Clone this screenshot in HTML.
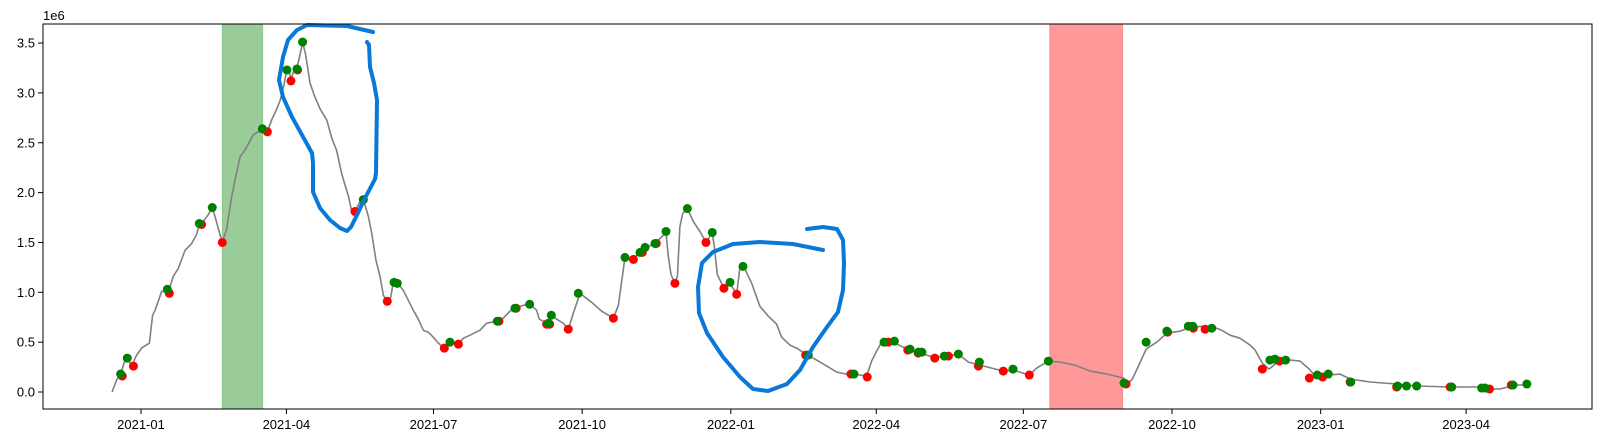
<!DOCTYPE html>
<html><head><meta charset="utf-8">
<style>
html,body{margin:0;padding:0;background:#fff;}
svg{display:block;font-family:"Liberation Sans","DejaVu Sans",sans-serif;}
</style></head>
<body>
<svg id="chart" width="1601" height="443" viewBox="0 0 1601 443" xmlns="http://www.w3.org/2000/svg">
<rect width="1601" height="443" fill="#fff"/>
<g id="bands"></g>
<g id="lines"></g>
<g id="dots"></g>
<g id="annot">
<path fill="none" stroke="#0a78d8" stroke-width="4" stroke-linecap="round" stroke-linejoin="round"
d="M373,32 L347,26 L307,25 L297,30 L288,40 L283,57 L279,80 L283,97 L292,117 L302,135 L312,153 L313,163 L313,192 L320,208 L330,220 L340,228 L347,231 L351,227 L357,215 L363,202 L375,179 L376,173 L377,100 L374,83 L370,67 L369,45 L367,42"/>
<path fill="none" stroke="#0a78d8" stroke-width="4" stroke-linecap="round" stroke-linejoin="round"
d="M823,250 L793,244 L760,242 L733,244 L713,252 L702,263 L698,287 L699,313 L707,333 L723,357 L740,377 L753,389 L768,391 L787,384 L800,370 L813,347 L827,327 L838,312 L843,290 L844,263 L843,240 L837,229 L823,227 L807,229"/>
</g>
<g id="axes"></g>
<text x="43" y="20" font-size="13" fill="#000">1e6</text>
</svg>
<script>
const lineDays=[-17.9,-15.1,-12.6,-10.5,-8.5,-5.8,-2.7,0.4,5.2,7.2,8.7,12.8,16.9,20,23.1,27.2,31.4,34.4,36.1,37.5,41.7,44.1,45.8,48.5,50.3,53,56.1,58.2,61.3,63.7,66.8,69.5,72.6,75.3,78.2,80.9,83.5,86,88.5,90.1,91.6,92.8,94.3,96.3,98.4,100,101.9,104.6,107.1,110.8,114.9,118,121.1,124.2,126.2,128.3,130.4,132.4,135.5,137.6,140.7,142.7,145.4,147.9,150,152.4,154.5,156.1,158.8,162.3,165.4,168.5,171.6,174.7,177.8,180.9,184,187.7,191.2,196.4,199.5,203.6,209.8,213.9,220.5,224.2,228.3,231.4,236.6,240.7,244.8,246.5,249,252.1,254.1,257.2,261.3,264.4,267.5,271.7,274.8,278.9,285.1,292.3,295.4,299.5,304.7,308.8,312.5,318.1,324.9,326.3,328,330.4,331.9,333.5,335.2,338.1,341.8,345.9,349.6,353.5,354.8,356.6,360.7,364.5,368.6,370.7,373.8,377.9,383,388.2,393.3,396.4,401.6,405.7,412.3,418.1,424.3,430.5,436.7,440.8,449,452.1,455.2,458.3,465.5,473.8,482,490.3,498.5,505.8,512,519.2,533.6,539.8,549.7,554.3,561.5,568.7,578,587.3,597.7,608,610.5,613.2,617.2,622,628.6,634.8,643,649.2,658.5,662.6,665.6,668.7,673.9,680.1,686.3,689.4,693.9,698,704.9,711,717.2,723,727.5,734.7,742,748.2,760.5,777,789.4,810.1,830.7,834.8,841,848,852,857.6];
const lineValues=[0,0.12,0.18,0.29,0.34,0.26,0.37,0.44,0.49,0.77,0.82,1.01,1.0,1.16,1.24,1.42,1.49,1.58,1.68,1.69,1.78,1.85,1.76,1.6,1.5,1.63,1.96,2.13,2.36,2.41,2.5,2.58,2.61,2.64,2.61,2.73,2.82,2.92,3.08,3.23,3.23,3.13,3.21,3.24,3.38,3.51,3.38,3.1,2.98,2.84,2.73,2.55,2.42,2.19,2.08,1.97,1.81,1.81,1.91,1.93,1.76,1.6,1.32,1.16,0.97,0.91,0.95,1.1,1.09,1.02,0.92,0.82,0.73,0.62,0.6,0.55,0.49,0.44,0.5,0.48,0.54,0.57,0.62,0.69,0.71,0.74,0.81,0.84,0.87,0.88,0.82,0.73,0.71,0.69,0.77,0.73,0.69,0.63,0.79,0.99,0.95,0.9,0.81,0.74,0.87,1.35,1.33,1.41,1.45,1.49,1.6,1.36,1.18,1.09,1.16,1.66,1.79,1.84,1.71,1.61,1.5,1.6,1.45,1.18,1.04,1.09,0.98,1.27,1.23,1.09,0.86,0.76,0.68,0.55,0.47,0.44,0.37,0.32,0.26,0.2,0.18,0.18,0.16,0.31,0.41,0.5,0.5,0.43,0.39,0.35,0.36,0.38,0.3,0.27,0.21,0.22,0.17,0.24,0.31,0.3,0.27,0.21,0.18,0.14,0.09,0.12,0.26,0.43,0.5,0.59,0.61,0.65,0.66,0.63,0.64,0.62,0.57,0.54,0.47,0.42,0.29,0.23,0.32,0.32,0.31,0.23,0.14,0.17,0.18,0.13,0.1,0.08,0.06,0.05,0.05,0.03,0.03,0.06,0.07,0.07,0.08];
const redDays=[-11.6,-4.7,17.5,37.5,50.3,78.2,92.8,96.9,132.4,152.4,187.7,196.4,221.5,232.2,251,252.9,264.4,292.3,304.7,310.2,318.9,330.4,349.6,360.7,368.6,411.3,439.3,449.4,462.4,474.5,480.9,491.2,499.6,518.2,533.6,549.7,609.6,635.3,651.2,658.5,693.9,704.5,723,731.2,748.2,777,810.1,834.5,848];
const redValues=[0.16,0.26,0.99,1.68,1.5,2.61,3.12,3.23,1.81,0.91,0.44,0.48,0.71,0.84,0.68,0.68,0.63,0.74,1.33,1.4,1.49,1.09,1.5,1.04,0.98,0.37,0.18,0.15,0.5,0.42,0.39,0.34,0.36,0.26,0.21,0.17,0.08,0.6,0.64,0.63,0.23,0.31,0.14,0.15,0.1,0.05,0.05,0.03,0.07];
const greenDays=[-12.6,-8.5,16.3,36.1,44.1,75.1,90.3,96.5,100,137.6,156.6,158.6,191.2,220.5,231.4,240.5,252.1,253.9,270.6,299.5,308.8,311.9,318.1,324.9,338.1,353.5,364.5,372.5,412.9,441.2,459.8,466.2,475.9,481.1,483.2,497.1,505.8,518.8,539.6,561.5,608.3,622,634.8,648.1,650.8,662.6,698.6,701.7,708.3,727.9,734.7,748.6,777.6,783.1,789.4,811.1,829.6,831.7,849,857.6];
const greenValues=[0.18,0.34,1.03,1.69,1.85,2.64,3.23,3.24,3.51,1.93,1.1,1.09,0.5,0.71,0.84,0.88,0.69,0.77,0.99,1.35,1.4,1.45,1.49,1.61,1.84,1.6,1.1,1.26,0.37,0.18,0.5,0.51,0.43,0.4,0.4,0.36,0.38,0.3,0.23,0.31,0.09,0.5,0.61,0.66,0.66,0.64,0.32,0.33,0.32,0.17,0.18,0.1,0.06,0.06,0.06,0.05,0.04,0.04,0.07,0.08];
const bandStarts=[50.3,562.3];
const bandEnds=[75.3,607.5];
const bandNames=['green-shaded-period','red-shaded-period'];
const xTickDays=[0,90,181,273,365,455,546,638,730,820];
const xTickLabels=['2021-01','2021-04','2021-07','2021-10','2022-01','2022-04','2022-07','2022-10','2023-01','2023-04'];
const yTickValues=[0,0.5,1,1.5,2,2.5,3,3.5];
const yTickLabels=['0.0','0.5','1.0','1.5','2.0','2.5','3.0','3.5'];

const NS='http://www.w3.org/2000/svg';
const L=43,R=1592,T=24,B=409;
function xs(d){return 141+d*1.616;}
function ys(v){return 392-v*99.7;}
function mk(tag,attrs,parent){const e=document.createElementNS(NS,tag);for(const k in attrs)e.setAttribute(k,attrs[k]);parent.appendChild(e);return e;}

const bands=document.getElementById('bands');
const bandFill=['rgba(0,128,0,0.4)','rgba(255,0,0,0.4)'];
const bandEdge=['rgba(0,128,0,0.25)','rgba(255,0,0,0.25)'];
for(let i=0;i<bandStarts.length;i++){
  const r=mk('rect',{x:xs(bandStarts[i]),y:T,width:xs(bandEnds[i])-xs(bandStarts[i]),height:B-T,fill:bandFill[i],stroke:bandEdge[i],'stroke-width':1},bands);
  
  
}

const lines=document.getElementById('lines');
let d='';
for(let i=0;i<lineDays.length;i++){d+=(i?'L':'M')+xs(lineDays[i]).toFixed(1)+','+ys(lineValues[i]).toFixed(1);}
const ln=mk('path',{d:d,fill:'none',stroke:'#808080','stroke-width':1.6,'stroke-linejoin':'round'},lines);



const dots=document.getElementById('dots');
for(let i=0;i<redDays.length;i++){
  const c=mk('circle',{cx:xs(redDays[i]),cy:ys(redValues[i]),r:4.5,fill:'#ff0000'},dots);
  
  
}
for(let i=0;i<greenDays.length;i++){
  const c=mk('circle',{cx:xs(greenDays[i]),cy:ys(greenValues[i]),r:4.5,fill:'#008000'},dots);
  
  
}

const axes=document.getElementById('axes');
const frame=mk('rect',{x:L,y:T,width:R-L,height:B-T,fill:'none',stroke:'#000','stroke-width':1},axes);


for(let i=0;i<xTickDays.length;i++){
  const x=xs(xTickDays[i]);
  const t=mk('line',{x1:x,x2:x,y1:B,y2:B+5,stroke:'#000','stroke-width':1},axes);
  
  
  const lb=mk('text',{x:x,y:B+20,'text-anchor':'middle','font-size':13,fill:'#000'},axes);
  lb.textContent=xTickLabels[i];
  
  
}
for(let i=0;i<yTickValues.length;i++){
  const y=ys(yTickValues[i]);
  const t=mk('line',{x1:L-5,x2:L,y1:y,y2:y,stroke:'#000','stroke-width':1},axes);
  
  
  const lb=mk('text',{x:L-8,y:y+4.5,'text-anchor':'end','font-size':13,fill:'#000'},axes);
  lb.textContent=yTickLabels[i];
  
  
}
</script>
</body></html>
